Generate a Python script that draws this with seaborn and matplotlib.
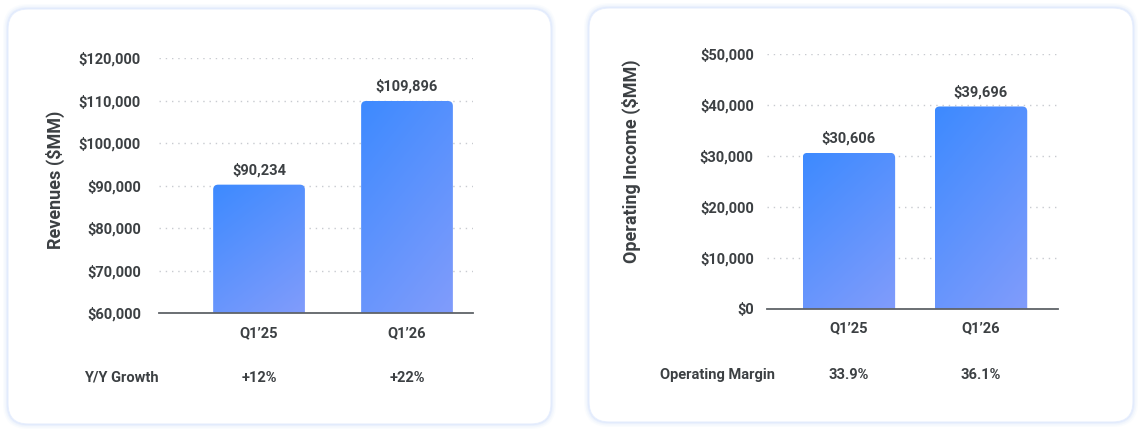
import numpy as np
import pandas as pd
import matplotlib
matplotlib.use("Agg")
import matplotlib.pyplot as plt
import matplotlib.transforms as mtransforms
from matplotlib.patches import FancyBboxPatch
from matplotlib.colors import LinearSegmentedColormap
import seaborn as sns

# data
quarters = ["Q1\u201925", "Q1\u201926"]
revenues = [90234, 109896]
op_income = [30606, 39696]
yy_growth = ["+12%", "+22%"]
op_margin = ["33.9%", "36.1%"]
rev_ticks = [60000, 70000, 80000, 90000, 100000, 110000, 120000]
inc_ticks = [0, 10000, 20000, 30000, 40000, 50000]

sns.set_theme(style="white")
plt.rcParams["font.family"] = ["Roboto", "DejaVu Sans"]
plt.rcParams["font.weight"] = "bold"

TXT = "#3c4043"
FS = 10.5
grad = LinearSegmentedColormap.from_list("bar", ["#3d8aff", "#5f93fd", "#819cfb"])

W, H = 1142, 433
fig = plt.figure(figsize=(W / 100, H / 100), dpi=100)
fig.patch.set_facecolor("white")

# background layer in pixel coords for the two cards
bg = fig.add_axes([0, 0, 1, 1], zorder=-5)
bg.set_xlim(0, W)
bg.set_ylim(H, 0)
bg.axis("off")
for (x0, y0, x1, y1) in [(8, 9, 551, 424), (589, 8, 1133, 422)]:
    for k, a in [(5, 0.10), (3.5, 0.18), (2, 0.3), (1, 0.5)]:
        bg.add_patch(FancyBboxPatch((x0 - k, y0 - k), x1 - x0 + 2 * k, y1 - y0 + 2 * k,
                                    boxstyle=f"round,pad=0,rounding_size={20 + k}",
                                    fc="#d6e3fc", ec="none", alpha=a))
    bg.add_patch(FancyBboxPatch((x0, y0), x1 - x0, y1 - y0,
                                boxstyle="round,pad=0,rounding_size=20",
                                fc="white", ec="#e6eefd", lw=0.8))


def px_axes(l, t, r, b):
    return fig.add_axes([l / W, 1 - b / H, (r - l) / W, (b - t) / H])


def draw_panel(ax, values, ticks, xlim, bar_w, ylabel, lab_xy, row_name, row_vals,
               row_name_x, row_y, tick_pad):
    df = pd.DataFrame({"quarter": quarters, "value": values})
    sns.barplot(data=df, x="quarter", y="value", ax=ax, width=bar_w, color="#4a8cfe")
    ax.set_xlim(*xlim)
    ax.set_ylim(ticks[0], ticks[-1])
    ax.set_yticks(ticks)
    ax.set_yticklabels([f"${t:,}" for t in ticks])
    ax.set_xlabel("")
    ax.set_ylabel(ylabel, fontsize=13, color=TXT, fontweight="bold")
    ax.yaxis.set_label_coords(*lab_xy)
    ax.tick_params(axis="y", length=0, pad=tick_pad, labelsize=FS, labelcolor=TXT)
    ax.tick_params(axis="x", length=0, pad=9, labelsize=FS, labelcolor=TXT)
    for lab in ax.get_xticklabels() + ax.get_yticklabels():
        lab.set_fontweight("bold")
    ax.grid(axis="y", color="#c8cbd0", linestyle=(0, (1, 3.5)), linewidth=1)
    ax.set_axisbelow(True)
    for s in ["top", "right", "left"]:
        ax.spines[s].set_visible(False)
    ax.spines["bottom"].set_color("#5f6368")
    ax.spines["bottom"].set_linewidth(1.3)
    ax.spines["bottom"].set_zorder(5)
    ax.set_facecolor("none")

    # replace flat bars with rounded gradient bars
    fig.canvas.draw()
    inv = ax.transData.inverted()
    p0 = inv.transform((0, 0))
    p1 = inv.transform((1, 1))
    xu, yu = p1[0] - p0[0], p1[1] - p0[1]  # data units per pixel
    ylo = ax.get_ylim()[0]
    gx = np.linspace(0, 1, 60)
    gy = np.linspace(0, 1, 200)
    GX, GY = np.meshgrid(gx, gy)
    img = 0.35 * GX + 0.65 * GY
    for p in list(ax.patches):
        x0, w = p.get_x(), p.get_width()
        top = p.get_y() + p.get_height()
        bot = max(p.get_y(), ylo)
        p.set_visible(False)
        clip = FancyBboxPatch((x0, bot - 30 * yu), w, top - bot + 30 * yu,
                              boxstyle=f"round,pad=0,rounding_size={5 * xu}",
                              mutation_aspect=yu / xu, transform=ax.transData)
        im = ax.imshow(img, cmap=grad, extent=(x0, x0 + w, bot, top), origin="upper",
                       aspect="auto", interpolation="bilinear", zorder=3)
        im.set_clip_path(clip)
    ax.set_xlim(*xlim)
    ax.set_ylim(ticks[0], ticks[-1])

    for i, v in enumerate(values):
        ax.annotate(f"${v:,}", xy=(i, v), xytext=(0, 5), textcoords="offset points",
                    ha="center", va="bottom", fontsize=FS, fontweight="bold",
                    color=TXT, annotation_clip=False)

    tr = mtransforms.blended_transform_factory(ax.transData, ax.transAxes)
    for i, s in enumerate(row_vals):
        ax.text(i, row_y, s, transform=tr, ha="center", va="center",
                fontsize=FS, fontweight="bold", color=TXT)
    ax.text(row_name_x, row_y, row_name, transform=tr, ha="left", va="center",
            fontsize=FS, fontweight="bold", color=TXT)


ax1 = px_axes(159, 58, 473, 313.3)
draw_panel(ax1, revenues, rev_ticks, (-0.676, 1.446), 0.62, "Revenues ($MM)",
           (-0.30, 0.524), "Y/Y Growth", yy_growth, -1.18, -0.253, 13)

ax2 = px_axes(767, 54, 1058, 308.7)
draw_panel(ax2, op_income, inc_ticks, (-0.62, 1.583), 0.70, "Operating Income ($MM)",
           (-0.433, 0.58), "Operating Margin", op_margin, -1.43, -0.26, 9.5)

fig.savefig("out.png", dpi=100, facecolor="white")
